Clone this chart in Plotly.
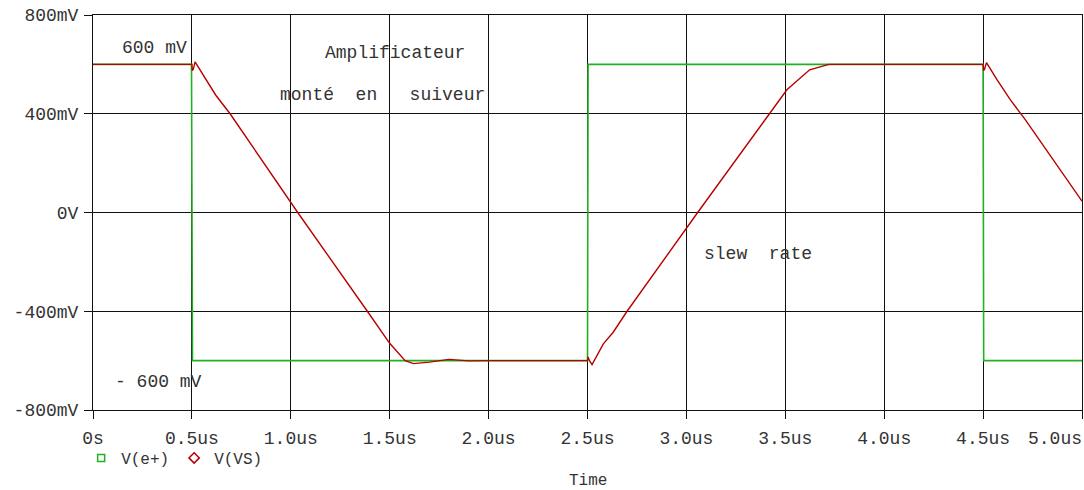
import plotly.graph_objects as go

# Time axis in microseconds, voltages in mV
t_ep = [0, 0.498, 0.503, 2.5, 2.503, 4.5, 4.503, 5.0]
v_ep = [600, 600, -600, -600, 600, 600, -600, -600]

t_vs = [0, 0.5, 0.502, 0.507, 0.516, 0.56, 0.62, 0.693, 1.035, 1.387, 1.5,
        1.578, 1.62, 1.7, 1.8, 1.9, 2.0, 2.5, 2.503, 2.51, 2.523, 2.58,
        2.63, 2.70, 3.057, 3.42, 3.508, 3.623, 3.72, 4.5, 4.502, 4.507,
        4.517, 4.571, 4.638, 4.714, 5.0]
v_vs = [600, 600, 575, 580, 610, 553, 476, 400, 0, -400, -530,
        -600, -612, -606, -595, -601, -600, -600, -585, -600, -616, -532,
        -485, -400, 0, 400, 497, 578, 600, 600, 575, 580,
        607, 537, 456, 375, 46]

x_ticks = [0, 0.5, 1.0, 1.5, 2.0, 2.5, 3.0, 3.5, 4.0, 4.5, 5.0]
x_labels = ["0s", "0.5us", "1.0us", "1.5us", "2.0us", "2.5us", "3.0us",
            "3.5us", "4.0us", "4.5us", "5.0us"]
y_ticks = [-800, -400, 0, 400, 800]
y_labels = ["-800mV", "-400mV", "0V", "400mV", "800mV"]

GREEN = "#22b022"
RED = "#b80000"
TXT = "#333333"
FONT = "Liberation Mono"
FS = 18

fig = go.Figure()
fig.add_trace(go.Scatter(x=t_ep, y=v_ep, mode="lines", showlegend=False,
                         line=dict(color=GREEN, width=1.6)))
fig.add_trace(go.Scatter(x=t_vs, y=v_vs, mode="lines", showlegend=False,
                         line=dict(color=RED, width=1.4)))
# legend entries with PSpice-style trace symbols
fig.add_trace(go.Scatter(x=[None], y=[None], mode="markers", name="V(e+)",
                         marker=dict(symbol="square-open", color=GREEN, size=7,
                                     line=dict(width=1.5))))
fig.add_trace(go.Scatter(x=[None], y=[None], mode="markers", name="V(VS)",
                         marker=dict(symbol="diamond-open", color=RED, size=8,
                                     line=dict(width=1.5))))
# empty trace that carries the overlay axis for the last time label
fig.add_trace(go.Scatter(x=[None], y=[None], xaxis="x2", showlegend=False,
                         hoverinfo="skip"))

notes = [
    ("600 mV", 120, 48),
    ("Amplificateur", 323, 53),
    ("monté\u00a0\u00a0en\u00a0\u00a0\u00a0suiveur", 278, 95),
    ("slew\u00a0\u00a0rate", 702, 254),
    ("-\u00a0600 mV", 113, 382),
]
for txt, px, py in notes:
    fig.add_annotation(text=txt, xref="paper", yref="paper",
                       x=(px - 93) / 989, y=(410 - py) / 395,
                       xanchor="left", yanchor="middle", showarrow=False,
                       font=dict(family=FONT, size=FS, color=TXT))

fig.add_annotation(text="Time", xref="paper", yref="paper",
                   x=0.5, y=(410 - 481) / 395, xanchor="center",
                   yanchor="middle", showarrow=False,
                   font=dict(family=FONT, size=16, color=TXT))

axis_common = dict(showgrid=True, gridcolor="#111111", gridwidth=1,
                   showline=True, linecolor="#111111", linewidth=1,
                   mirror=True, ticks="outside", ticklen=8,
                   tickcolor="#111111", zeroline=False, automargin=False,
                   tickfont=dict(family=FONT, size=FS, color=TXT))

# main time axis: every label but the last, which is right-aligned below
fig.update_xaxes(range=[0, 5], tickvals=x_ticks,
                 ticktext=x_labels[:-1] + [""],
                 ticklabelstandoff=3, **axis_common)
fig.update_yaxes(range=[-800, 800], tickvals=y_ticks, ticktext=y_labels,
                 ticklabelstandoff=2, **axis_common)

fig.update_layout(
    xaxis2=dict(overlaying="x", side="bottom", range=[0, 5],
                tickvals=x_ticks[-1:], ticktext=x_labels[-1:],
                ticklabelposition="outside left", ticks="",
                showgrid=False, showline=False, zeroline=False,
                automargin=False, ticklabelstandoff=15,
                tickfont=dict(family=FONT, size=FS, color=TXT)),
    width=1084, height=490,
    margin=dict(l=93, r=2, t=15, b=80, autoexpand=False),
    plot_bgcolor="white", paper_bgcolor="white",
    legend=dict(orientation="h", x=-0.012, xanchor="left",
                y=(410 - 458) / 395, yanchor="middle",
                font=dict(family=FONT, size=16, color=TXT),
                itemwidth=30, bgcolor="rgba(0,0,0,0)"),
)

fig.write_html("out.html")
